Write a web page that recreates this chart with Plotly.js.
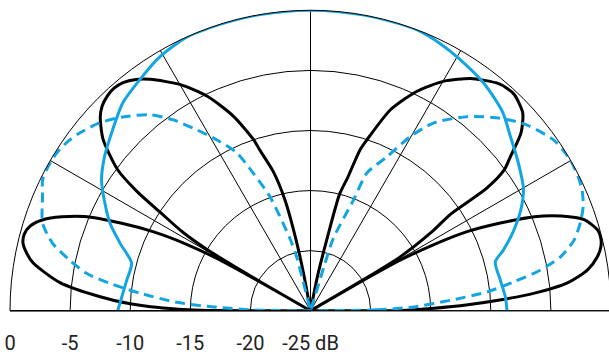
<!DOCTYPE html>
<html>
<head>
<meta charset="utf-8">
<script src="https://cdn.plot.ly/plotly-3.0.1.min.js"></script>
<style>
html,body{margin:0;padding:0;background:#fff;overflow:hidden;width:609px;height:357px;}
#chart{width:612px;height:357px;}
</style>
</head>
<body>
<div id="chart"></div>
<script>
// Black solid pattern (angle in degrees, level in dB)
const blackTheta = [0,0.2,1.2,2.2,3.3,4.5,6.2,8.4,10.7,12.5,14.2,15.8,18.4,20.7,22.8,24.8,26.8,28.2,29.4,29.9,30,
  30.4,31,33,34.6,34.8,36,37.7,40.2,43,46.7,48.5,50.6,53,55.4,59.8,64.1,68.3,71.7,72.9,74.4,76,77.1,78.5,80,
  100,100.5,101.5,103,105,107.5,108.4,111.6,115.7,119.9,124.7,127,129.4,131.5,133.5,135.5,137.3,140.4,143.8,145.5,146.8,148.4,149.4,150,
  150.1,150.3,150.7,151.8,153.3,155.2,157.4,159.3,161.2,163.2,165,166.7,168.5,170.2,173.6,176.2,177.8,178.6,179.3,179.8,180];
const blackR = [-25,-17.5,-14.7,-11.9,-9.1,-6.3,-3.5,-1.7,-0.7,-0.25,-0.1,-0.2,-1.0,-2.7,-4.8,-7.6,-10.4,-13.3,-16.4,-20,-25,
  -20,-16.3,-13,-10.8,-7.2,-5.1,-3.95,-2.07,-0.86,-0.28,-0.3,-0.5,-1.0,-1.53,-2.9,-4.7,-7.0,-10.0,-11,-13.5,-15,-19,-22,-25,
  -25,-22,-19,-15.5,-13,-11,-10,-7.6,-5.2,-3.3,-1.58,-0.9,-0.43,-0.3,-0.42,-0.7,-1.2,-2.6,-5.1,-7.5,-10.1,-12.5,-15,-20,
  -25,-20,-16.4,-13.3,-10.4,-7.6,-4.6,-2.9,-1.5,-0.63,-0.35,-0.42,-0.9,-1.57,-4.03,-7.46,-10,-11.7,-14,-16.5,-25];

// Blue solid pattern
const solidTheta = [0,4.1,9.1,14.8,17.4,21.6,25.6,29.7,31.7,36,41,46,52.7,59.5,64,69.3,75,80,85,90,95,100,105,110,114.3,
  120.7,126.5,132.1,137.6,143.2,148,152.4,156.4,160.5,165.1,170.6,175.9,180];
const solidR = [-8.65,-8.75,-9.0,-9.1,-8.2,-6.8,-5.6,-4.6,-4.3,-3.7,-2.95,-2.0,-1.2,-0.65,-0.3,0,0,0,0,0,0,0,0,0,0,
  -0.43,-1.1,-1.7,-2.7,-3.6,-4.5,-5.7,-6.8,-8.2,-9.6,-9.5,-9.25,-8.96];

// Blue dashed pattern
const dashTheta = [0,0.8,2.1,4.3,6.1,8.1,10,12.2,15,18.2,21,24,26.5,29.8,32.5,35.1,40.6,45.4,51.1,56.7,60.2,63.6,67.7,68.8,72.5,73,74,
  102.5,104.4,105.9,109.6,112.6,115,118.7,122.2,125.8,129.4,134.1,138.3,142.4,145,148.2,151.9,154,157,161.9,165.3,168.1,170.5,172.2,174.1,176.4,177.9,179.4,180];
const dashR = [-25,-19.5,-16.4,-13.3,-10.2,-7.9,-5.6,-3.7,-2.3,-1.35,-0.7,-0.27,-0.1,0,-0.1,-0.28,-1.26,-2.5,-4.25,-6.3,-8.3,-10.7,-12.6,-15.1,-18.7,-21,-25,
  -25,-20.4,-18.75,-14.9,-12.6,-10.5,-8.8,-7.2,-5.4,-3.9,-2.55,-1.5,-0.76,-0.4,-0.13,-0.1,-0.2,-0.78,-1.55,-2.8,-4.5,-6.1,-8.1,-10.7,-13.85,-17.2,-20.8,-25];

// Radial tick labels
const tickValues = [-25,-20,-15,-10,-5,0];
const tickLabels = ['-25 dB','-20','-15','-10','-5','0'];

const blue = '#12a5e2';

const traces = [
  {type:'scatterpolar', mode:'lines', theta:blackTheta, r:blackR,
   line:{color:'#000', width:3, shape:'spline', smoothing:0.7}, hoverinfo:'skip'},
  {type:'scatterpolar', mode:'lines', theta:solidTheta, r:solidR,
   line:{color:blue, width:3, shape:'spline', smoothing:0.7}, hoverinfo:'skip'},
  {type:'scatterpolar', mode:'lines', theta:dashTheta, r:dashR,
   line:{color:blue, width:3, dash:'10px,6px', shape:'spline', smoothing:0.7}, hoverinfo:'skip'}
];

const layout = {
  width:612, height:357,
  margin:{l:10, r:1, t:10, b:46, pad:0},
  paper_bgcolor:'#fff',
  showlegend:false,
  font:{family:'Roboto, "Liberation Sans", sans-serif', size:20, color:'#222'},
  polar:{
    bgcolor:'rgba(0,0,0,0)',
    sector:[0,180],
    domain:{x:[0,1], y:[0,1]},
    radialaxis:{
      range:[-25,0], angle:180, side:'counterclockwise',
      tickmode:'array', tickvals:tickValues, ticktext:tickLabels,
      ticks:'outside', ticklen:11, tickcolor:'rgba(0,0,0,0)',
      tickangle:180,
      showline:true, linecolor:'#000', linewidth:1,
      showgrid:true, gridcolor:'#000', gridwidth:1,
      tickfont:{family:'Roboto, "Liberation Sans", sans-serif', size:20, color:'#222'}
    },
    angularaxis:{
      rotation:0, direction:'counterclockwise',
      tickmode:'linear', tick0:0, dtick:30,
      showticklabels:false, ticks:'',
      showline:true, linecolor:'#000', linewidth:1,
      showgrid:true, gridcolor:'#000', gridwidth:1
    }
  }
};

Plotly.newPlot('chart', traces, layout, {staticPlot:true, displayModeBar:false});
</script>
</body>
</html>
